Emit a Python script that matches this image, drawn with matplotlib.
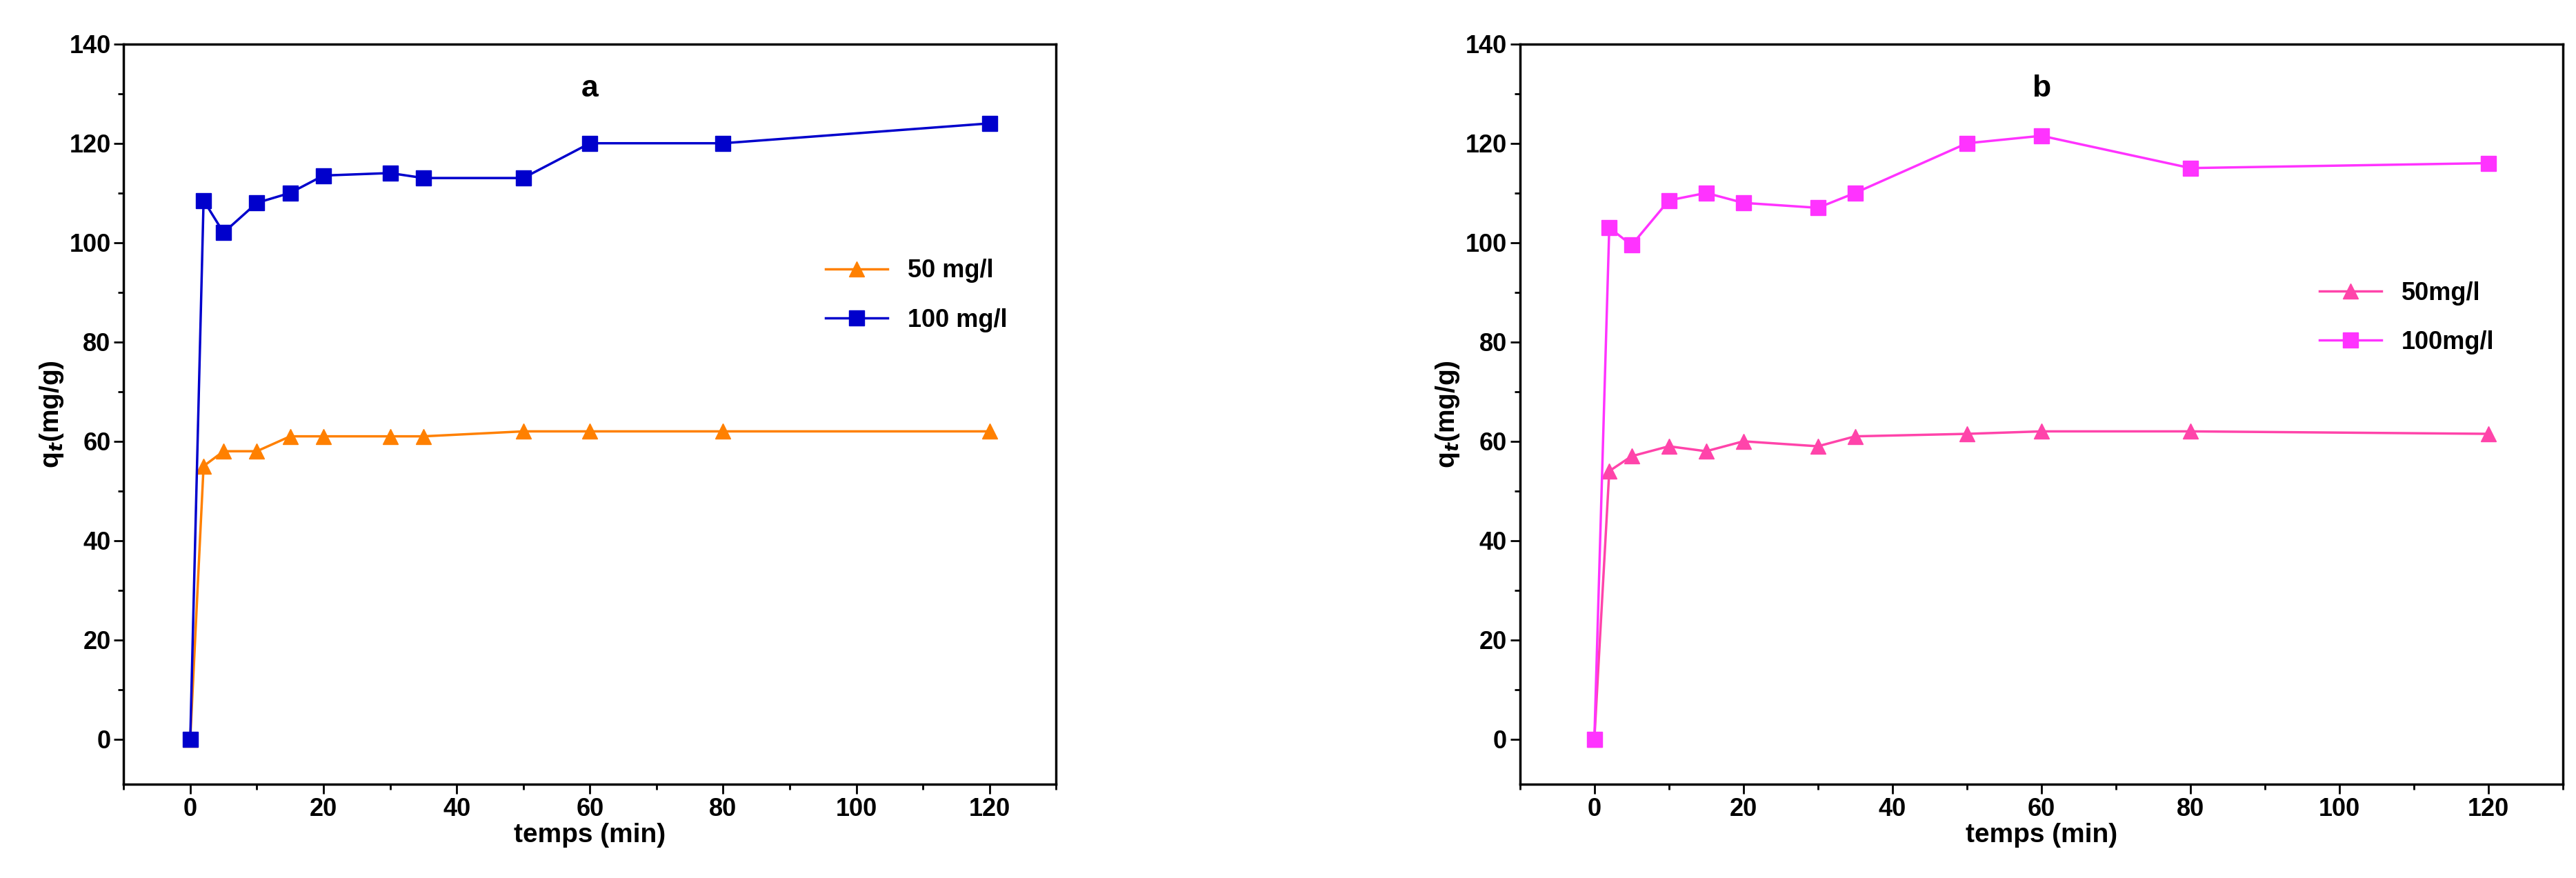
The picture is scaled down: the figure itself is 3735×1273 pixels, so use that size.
import matplotlib
matplotlib.use("Agg")
import matplotlib.pyplot as plt
from matplotlib.ticker import MultipleLocator

plt.rcParams['font.family'] = ['Liberation Sans', 'DejaVu Sans']
plt.rcParams['font.weight'] = 'bold'

t = [0, 2, 5, 10, 15, 20, 30, 35, 50, 60, 80, 120]
a_50 = [0, 55, 58, 58, 61, 61, 61, 61, 62, 62, 62, 62]
a_100 = [0, 108.5, 102, 108, 110, 113.5, 114, 113, 113, 120, 120, 124]
b_50 = [0, 54, 57, 59, 58, 60, 59, 61, 61.5, 62, 62, 61.5]
b_100 = [0, 103, 99.5, 108.5, 110, 108, 107, 110, 120, 121.5, 115, 116]

fig = plt.figure(figsize=(37.35, 12.73), dpi=100)
axa = fig.add_axes([0.048, 0.107, 0.362, 0.843])
axb = fig.add_axes([0.590, 0.107, 0.405, 0.843])

def style(ax, title, ser, legx, legy):
    for y, c, m, lab in ser:
        ax.plot(t, y, color=c, marker=m, markersize=16, linewidth=2.5, label=lab)
    ax.set_xlim(-10, 130)
    ax.set_ylim(-9, 140)
    ax.xaxis.set_major_locator(MultipleLocator(20))
    ax.xaxis.set_minor_locator(MultipleLocator(10))
    ax.yaxis.set_major_locator(MultipleLocator(20))
    ax.yaxis.set_minor_locator(MultipleLocator(10))
    ax.tick_params(which='both', direction='out', width=2, labelsize=26)
    ax.tick_params(which='major', length=10)
    ax.tick_params(which='minor', length=6)
    for s in ax.spines.values():
        s.set_linewidth(2.5)
    ax.set_xlabel('temps (min)', fontsize=28, fontweight='bold', labelpad=2)
    ax.set_ylabel(r'q$_t$(mg/g)', fontsize=28, fontweight='bold')
    ax.text(0.5, 0.94, title, transform=ax.transAxes, ha='center', va='center', fontsize=32, fontweight='bold')
    ax.legend(loc='center', bbox_to_anchor=(legx, legy), frameon=False, fontsize=26,
              handlelength=2.5, labelspacing=1.0)

style(axa, 'a', [(a_50, '#FF8000', '^', '50 mg/l'), (a_100, '#0000CC', 's', '100 mg/l')], 0.85, 0.66)
style(axb, 'b', [(b_50, '#FF44AA', '^', '50mg/l'), (b_100, '#FF33FF', 's', '100mg/l')], 0.85, 0.63)

fig.savefig('out.png', dpi=100)
